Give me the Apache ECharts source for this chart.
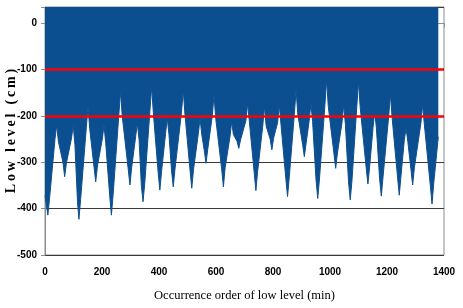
<!DOCTYPE html>
<html>
<head>
<meta charset="utf-8">
<script src="https://cdn.jsdelivr.net/npm/echarts@6/dist/echarts.min.js"></script>
<style>
  html, body { margin: 0; padding: 0; background: #fff; }
  #low-level-chart { width: 463px; height: 308px; }
</style>
</head>
<body>
<div id="low-level-chart"></div>
<script>
  // occurrence order (min) and low level (cm) at tips and shoulders
  var orderMin = [0, 10, 16, 35, 41, 47, 63, 69, 75, 93, 99, 105, 114, 119, 125,
    145, 151, 157, 172, 178, 184, 201, 207, 213, 227, 233, 239,
    259, 265, 271, 292, 298, 304, 318, 324, 330, 338, 344, 350,
    368, 374, 380, 397, 403, 409, 423, 429, 435, 444, 450, 456,
    479, 485, 491, 509, 515, 521, 538, 544, 550, 559, 565, 571,
    587, 593, 599, 620, 626, 632, 649, 655, 661, 674, 680, 686,
    705, 711, 717, 734, 740, 746, 764, 770, 776, 790, 796, 802,
    816, 822, 828, 845, 851, 857, 875, 881, 887, 904, 910, 916,
    927, 933, 939, 951, 957, 963, 982, 988, 994, 1014, 1020, 1026,
    1042, 1048, 1054, 1065, 1071, 1077, 1094, 1100, 1106, 1127, 1133, 1139,
    1151, 1157, 1163, 1174, 1180, 1186, 1206, 1212, 1218, 1237, 1243, 1249,
    1261, 1267, 1273, 1284, 1290, 1296, 1319, 1325, 1331, 1352, 1358, 1364, 1380]
  var lowLevel = [-372, -414, -378, -250, -220, -255, -300, -331, -302, -248, -220, -262, -385, -423, -380,
    -225, -180, -228, -310, -342, -308, -250, -220, -258, -372, -414, -370,
    -198, -147, -200, -315, -349, -312, -245, -216, -250, -350, -385, -345,
    -190, -137, -192, -322, -360, -320, -238, -205, -240, -318, -353, -315,
    -192, -144, -196, -318, -356, -316, -238, -205, -240, -275, -302, -272,
    -200, -155, -205, -315, -353, -312, -245, -212, -240, -255, -270, -252,
    -210, -173, -212, -322, -361, -320, -222, -180, -222, -250, -273, -248,
    -215, -176, -218, -335, -374, -333, -195, -144, -196, -262, -288, -260,
    -210, -173, -212, -338, -378, -336, -178, -122, -180, -282, -313, -280,
    -215, -176, -218, -342, -381, -340, -180, -126, -182, -312, -347, -310,
    -225, -191, -228, -335, -373, -332, -200, -153, -204, -332, -371, -330,
    -250, -227, -255, -315, -349, -312, -215, -176, -218, -350, -390, -345, -245]
  var redLevels = [-100, -200]
  var xTicks = {min: 0, max: 1400, interval: 200}
  var yTicks = {min: -500, max: 35, interval: 100}

  var points = orderMin.map(function (x, i) { return [x, lowLevel[i]] })
  var yTitle = 'Low level (cm)'.split('').join('\u2009')

  var myChart = echarts.init(document.getElementById('low-level-chart'))
  myChart.setOption({
    animation: false,
    grid: {
      left: 45, right: 19, top: 7, bottom: 53,
      outerBoundsMode: 'none',
      containLabel: false,
      show: true, borderColor: '#8c8c8c', borderWidth: 1
    },
    xAxis: {
      type: 'value',
      min: xTicks.min, max: xTicks.max, interval: xTicks.interval,
      name: 'Occurrence order of low level (min)',
      nameLocation: 'middle',
      nameGap: 34,
      nameMoveOverlap: false,
      nameTextStyle: { fontFamily: 'Liberation Serif', fontSize: 12.5, color: '#000' },
      axisLine: { lineStyle: { color: '#8c8c8c' } },
      axisTick: { inside: false, length: 4, lineStyle: { color: '#8c8c8c' } },
      axisLabel: {
        fontFamily: 'Liberation Sans', fontWeight: 'bold', fontSize: 10, color: '#000', margin: 12,
        formatter: function (v) { return String(v) }
      },
      splitLine: { show: false }
    },
    yAxis: {
      type: 'value',
      min: yTicks.min, max: yTicks.max, interval: yTicks.interval,
      name: yTitle,
      nameLocation: 'middle',
      nameGap: 27,
      nameMoveOverlap: false,
      nameTextStyle: { fontFamily: 'Liberation Serif', fontWeight: 'bold', fontSize: 14, color: '#000' },
      axisLine: { show: true, lineStyle: { color: '#8c8c8c' } },
      axisTick: { show: true, length: 4, lineStyle: { color: '#8c8c8c' } },
      axisLabel: {
        fontFamily: 'Liberation Sans', fontWeight: 'bold', fontSize: 10, color: '#000', margin: 8,
        formatter: function (v) { return v % 100 === 0 ? String(v) : '' }
      },
      splitLine: { show: true, lineStyle: { color: '#3a3a3a', width: 1 } }
    },
    series: [{
      type: 'line',
      data: points,
      symbol: 'none',
      lineStyle: { color: '#0b4f90', width: 1 },
      areaStyle: { color: '#0b4f90', opacity: 1, origin: 'end' },
      markLine: {
        silent: true,
        symbol: 'none',
        label: { show: false },
        lineStyle: { color: '#ff0000', width: 2.5, type: 'solid' },
        data: redLevels.map(function (v) { return { yAxis: v } })
      }
    }]
  })
</script>
</body>
</html>
